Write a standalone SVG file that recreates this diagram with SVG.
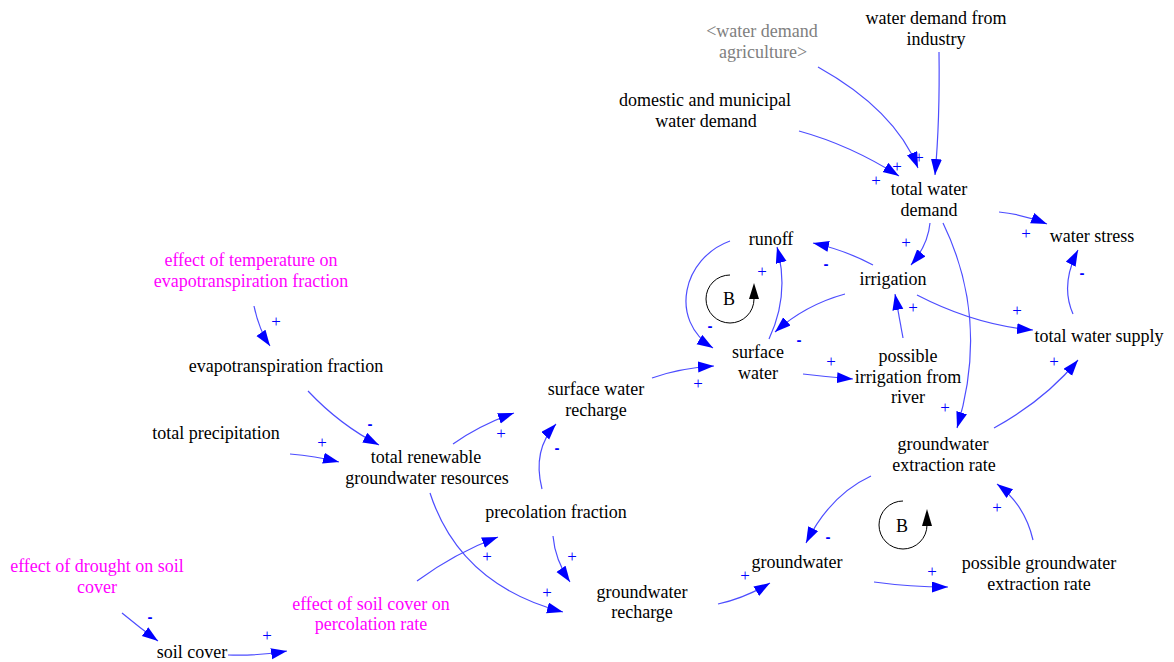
<svg xmlns="http://www.w3.org/2000/svg" width="1174" height="662" viewBox="0 0 1174 662">
  <style>
    .lbl { font-family: "Liberation Serif", "Times New Roman", serif; font-size: 18px; fill: #000; text-anchor: middle; }
    .shadow { fill: #808080; }
    .ext { fill: #ff00ff; }
    .link { fill: none; stroke: #4d4dff; stroke-width: 1.2; marker-end: url(#head); }
    .pol { font-family: "Liberation Serif", "Times New Roman", serif; font-size: 17px; fill: #0000ff; text-anchor: middle; dominant-baseline: central; }
    .neg { font-family: "Liberation Sans", Arial, sans-serif; font-size: 15px; font-weight: bold; fill: #0000ff; text-anchor: middle; dominant-baseline: central; }
    .loop { fill: none; stroke: #000; stroke-width: 1; }
  </style>
  <defs>
    <marker id="head" markerUnits="userSpaceOnUse" markerWidth="17" markerHeight="12" refX="16" refY="5.5" orient="auto">
      <path d="M0,0 L16,5.5 L0,11 Z" fill="#0000ff"/>
    </marker>
  </defs>
  <rect width="1174" height="662" fill="#fff"/>

  <!-- causal links -->
  <g id="connectors">
    <path class="link" d="M818,67 Q895,110 918,168"/>
    <path class="link" d="M939,52 Q940,120 935,175"/>
    <path class="link" d="M799,131 Q850,145 899,176"/>
    <path class="link" d="M999,212 Q1022,214 1047,224"/>
    <path class="link" d="M930,223 Q928,245 911,265"/>
    <path class="link" d="M943,223 Q990,320 957,428"/>
    <path class="link" d="M873,265 Q845,250 813,243"/>
    <path class="link" d="M845,294 Q805,305 775,332"/>
    <path class="link" d="M917,295 Q975,325 1033,330"/>
    <path class="link" d="M903,338 Q899,316 895,294"/>
    <path class="link" d="M769,339 Q790,295 777,247"/>
    <path class="link" d="M730,241 C683,258 668,320 713,348"/>
    <path class="link" d="M803,374 Q828,377 853,379"/>
    <path class="link" d="M652,378 Q680,368 714,366"/>
    <path class="link" d="M1073,314 Q1060,285 1078,250"/>
    <path class="link" d="M994,428 Q1045,400 1078,360"/>
    <path class="link" d="M453,444 Q480,425 514,413"/>
    <path class="link" d="M542,489 Q532,450 556,424"/>
    <path class="link" d="M308,391 Q340,425 379,445"/>
    <path class="link" d="M254,306 Q259,330 270,346"/>
    <path class="link" d="M290,454 Q315,456 339,462"/>
    <path class="link" d="M430,493 Q460,585 563,612"/>
    <path class="link" d="M417,581 Q455,553 498,537"/>
    <path class="link" d="M553,536 Q555,560 570,582"/>
    <path class="link" d="M122,613 Q140,628 158,641"/>
    <path class="link" d="M228,655 Q258,656 287,651"/>
    <path class="link" d="M718,604 Q745,598 770,583"/>
    <path class="link" d="M874,582 Q910,587 948,587"/>
    <path class="link" d="M1033,540 Q1025,505 997,484"/>
    <path class="link" d="M871,476 Q830,495 806,543"/>
  </g>

  <!-- link polarities -->
  <g id="polarities">
    <text class="pol" x="876" y="180">+</text>
    <text class="pol" x="897" y="166">+</text>
    <text class="pol" x="919" y="157">+</text>
    <text class="pol" x="1026" y="233">+</text>
    <text class="pol" x="906" y="242">+</text>
    <text class="pol" x="945" y="407">+</text>
    <text class="neg" x="826" y="263">-</text>
    <text class="neg" x="799" y="339">-</text>
    <text class="pol" x="1017" y="310">+</text>
    <text class="pol" x="913" y="307">+</text>
    <text class="pol" x="762" y="271">+</text>
    <text class="neg" x="710" y="325">-</text>
    <text class="pol" x="831" y="361">+</text>
    <text class="pol" x="698" y="383">+</text>
    <text class="neg" x="1082" y="272">-</text>
    <text class="pol" x="1054" y="361">+</text>
    <text class="pol" x="501" y="433">+</text>
    <text class="neg" x="557" y="447">-</text>
    <text class="neg" x="370" y="423">-</text>
    <text class="pol" x="276" y="321">+</text>
    <text class="pol" x="322" y="442">+</text>
    <text class="pol" x="572" y="556">+</text>
    <text class="pol" x="547" y="592">+</text>
    <text class="pol" x="487" y="556">+</text>
    <text class="neg" x="150" y="616">-</text>
    <text class="pol" x="267" y="635">+</text>
    <text class="pol" x="745" y="575">+</text>
    <text class="pol" x="932" y="571">+</text>
    <text class="pol" x="997" y="507">+</text>
    <text class="neg" x="828" y="536">-</text>
  </g>

  <!-- balancing loop markers -->
  <g id="loop_surface">
    <path class="loop" d="M730,275 A24,24 0 1 0 754,299"/>
    <path d="M749,299 L759,299 L754,283 Z" fill="#000"/>
    <text class="lbl" x="729" y="305">B</text>
  </g>
  <g id="loop_ground">
    <path class="loop" d="M903,501 A24,24 0 1 0 927,525"/>
    <path d="M922,526 L932,526 L927,509 Z" fill="#000"/>
    <text class="lbl" x="902" y="532">B</text>
  </g>

  <!-- variables -->
  <g id="water_demand_agriculture"><text class="lbl shadow" x="762" y="37">&lt;water demand<tspan x="763" dy="21">agriculture&gt;</tspan></text></g>
  <g id="water_demand_industry"><text class="lbl" x="936" y="24">water demand from<tspan x="936" dy="21">industry</tspan></text></g>
  <g id="domestic_demand"><text class="lbl" x="705" y="106">domestic and municipal<tspan x="706" dy="21">water demand</tspan></text></g>
  <g id="total_water_demand"><text class="lbl" x="929" y="195">total water<tspan x="929" dy="21">demand</tspan></text></g>
  <g id="water_stress"><text class="lbl" x="1092" y="242">water stress</text></g>
  <g id="runoff"><text class="lbl" x="771" y="245">runoff</text></g>
  <g id="irrigation"><text class="lbl" x="893" y="285">irrigation</text></g>
  <g id="surface_water"><text class="lbl" x="758" y="358">surface<tspan x="758" dy="21">water</tspan></text></g>
  <g id="possible_irrigation"><text class="lbl" x="908" y="362">possible<tspan x="908" dy="20.5">irrigation from</tspan><tspan x="908" dy="20.5">river</tspan></text></g>
  <g id="total_water_supply"><text class="lbl" x="1099" y="342">total water supply</text></g>
  <g id="effect_temperature"><text class="lbl ext" x="251" y="266">effect of temperature on<tspan x="251" dy="21">evapotranspiration fraction</tspan></text></g>
  <g id="evapotranspiration_fraction"><text class="lbl" x="286" y="372">evapotranspiration fraction</text></g>
  <g id="total_precipitation"><text class="lbl" x="216" y="439">total precipitation</text></g>
  <g id="total_renewable"><text class="lbl" x="426" y="463">total renewable<tspan x="427" dy="21">groundwater resources</tspan></text></g>
  <g id="surface_water_recharge"><text class="lbl" x="596" y="395">surface water<tspan x="596" dy="21">recharge</tspan></text></g>
  <g id="percolation_fraction"><text class="lbl" x="556" y="518">precolation fraction</text></g>
  <g id="groundwater_extraction_rate"><text class="lbl" x="943" y="450">groundwater<tspan x="944" dy="21">extraction rate</tspan></text></g>
  <g id="groundwater"><text class="lbl" x="797" y="568">groundwater</text></g>
  <g id="possible_groundwater_extraction"><text class="lbl" x="1039" y="569">possible groundwater<tspan x="1039" dy="21">extraction rate</tspan></text></g>
  <g id="groundwater_recharge"><text class="lbl" x="642" y="598">groundwater<tspan x="642" dy="20">recharge</tspan></text></g>
  <g id="effect_drought"><text class="lbl ext" x="97" y="572">effect of drought on soil<tspan x="97" dy="21">cover</tspan></text></g>
  <g id="soil_cover"><text class="lbl" x="192" y="658">soil cover</text></g>
  <g id="effect_soil_cover"><text class="lbl ext" x="371" y="610">effect of soil cover on<tspan x="371" dy="20">percolation rate</tspan></text></g>
</svg>
